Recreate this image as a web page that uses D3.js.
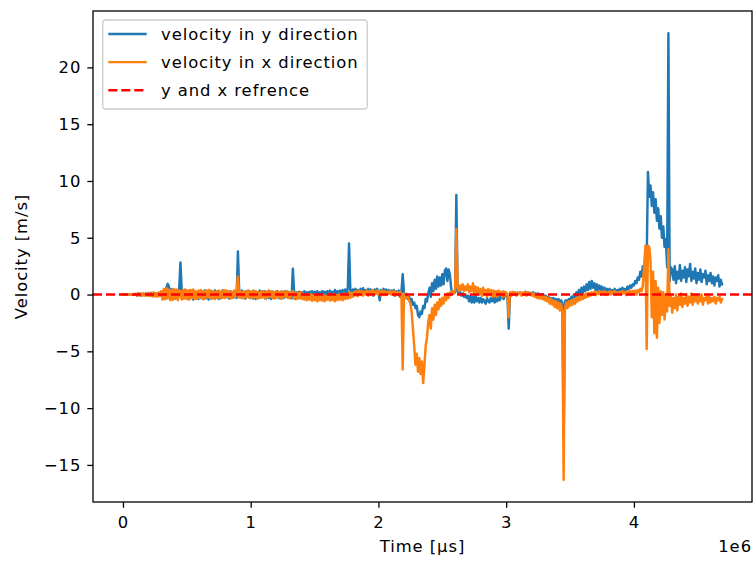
<!DOCTYPE html>
<html>
<head>
<meta charset="utf-8">
<script src="https://cdn.jsdelivr.net/npm/d3@7"></script>
<style>
  body { margin: 0; background: #fff; }
  text { font-family: "DejaVu Sans", sans-serif; fill: #000; letter-spacing: 0.93px; }
</style>
</head>
<body>
<svg id="chart" width="754" height="561"></svg>
<script>
// Sampling: one reading every 10 000 µs
const sampleStep = 10000;

// Velocity in y direction [m/s], 10 samples per row (each row = 0.1e6 µs)
const velocityY = [
  0,0,0,0,0,0,0,0,0,0,
  0.05,-0.08,0.1,-0.05,0.08,-0.1,0.06,-0.04,0.1,-0.08,
  0.12,-0.1,0.15,-0.12,0.1,-0.15,0.12,-0.08,0.18,-0.12,
  0.25,-0.35,0.3,-0.4,0.6,0.94,0.7,-0.3,0.5,-0.45,
  0.4,-0.35,0.3,-0.4,0.35,2.83,0.3,-0.35,0.4,-0.3,
  0.3,-0.4,0.35,-0.3,0.25,-0.45,0.3,-0.35,0.2,-0.4,
  0.3,-0.3,0.25,-0.4,0.35,-0.3,0.2,-0.45,0.3,-0.35,
  0.25,-0.3,0.35,-0.25,0.3,-0.4,0.2,-0.3,0.35,-0.25,
  0.3,-0.2,0.25,-0.35,0.3,-0.3,0.2,-0.25,0.3,-0.3,
  3.8,0.3,-0.25,0.35,-0.3,0.25,-0.35,0.3,-0.2,0.3,
  -0.3,0.25,-0.35,0.3,-0.4,0.2,-0.3,0.35,-0.25,0.3,
  -0.2,0.3,-0.35,0.25,-0.3,0.3,-0.4,0.25,-0.3,0.2,
  -0.25,0.3,-0.3,0.2,-0.35,0.25,-0.3,0.3,-0.2,0.25,
  -0.3,0.2,-0.35,2.28,0.25,-0.4,0.2,-0.3,0.25,-0.2,
  0.2,-0.25,0.3,-0.15,0.2,-0.3,0.25,-0.1,0.3,-0.2,
  0.25,-0.1,0.3,-0.15,0.2,-0.1,0.3,-0.2,0.25,-0.05,
  0.3,-0.1,0.35,0,0.25,-0.1,0.4,0.05,0.3,0,
  0.35,0.05,0.4,0,0.45,0.1,0.5,4.5,0.4,0.1,
  0.45,0.1,0.5,0.15,0.4,0.2,0.5,0.1,0.55,0.2,
  0.4,0.15,0.5,0.1,0.45,0.2,-0.1,0.45,0.1,0.5,
  0.2,-0.5,0.4,0.1,0.5,0.15,0.45,0.2,0.4,0.1,
  0.35,0.1,0.4,-0.1,0.3,0.05,0.35,-0.2,0.2,1.8,
  0.1,-0.3,0.05,-0.4,-0.2,-0.6,-0.4,-0.9,-0.7,-1.2,
  -1.0,-1.8,-2.0,-1.5,-1.7,-1.0,-1.2,-0.4,-0.6,0.1,
  0.6,-0.2,1.0,0.3,1.3,0.5,1.6,0.7,1.5,0.8,
  1.8,0.9,2.1,2.3,1.2,2.2,1.7,0.5,0.1,0.1,
  0.2,8.77,0.3,0.1,0.2,-0.1,0.1,-0.2,0,-0.3,
  -0.1,-0.6,-0.1,-0.7,-0.2,-0.7,-0.1,-0.6,-0.3,-0.7,
  -0.3,-0.7,-0.4,-0.6,-0.8,-0.3,-0.6,-0.7,-0.3,-0.6,
  -0.3,-0.7,-0.2,-0.6,-0.1,-0.5,-0.2,-0.1,-0.4,-0.1,
  -0.1,-0.2,-3.0,0.1,-0.1,0.15,0,0.2,0.05,0.15,
  0.1,0.2,0,0.15,0.1,0.25,0.05,0.2,0.1,0.15,
  0.05,0.2,0,0.1,-0.05,0.1,-0.1,0.05,-0.15,0,
  -0.2,-0.1,-0.3,-0.2,-0.4,-0.3,-0.5,-0.3,-0.6,-0.4,
  -0.6,-0.4,-0.7,-0.5,-0.8,-12.5,-0.6,-0.5,-0.7,-0.4,
  -0.5,-0.2,-0.4,0,-0.3,0.2,-0.1,0.4,0.1,0.6,
  0.1,0.7,0.3,0.9,0.4,1.1,0.5,1.2,0.6,1.0,
  0.4,0.9,0.3,0.8,0.2,0.7,0.3,0.6,0.1,0.5,
  0.3,0.5,0.2,0.4,0.1,0.5,0.2,0.4,0.3,0.5,
  0.3,0.6,0.4,0.5,0.3,0.7,0.5,0.8,0.6,0.9,
  0.8,1.2,1.0,1.5,1.3,2.0,1.6,2.5,2.2,2.8,
  3.0,10.8,8.6,9.6,7.8,9.0,7.2,8.4,6.5,7.6,
  5.8,6.9,5.0,6.0,4.2,4.9,2.4,23.0,1.2,2.4,
  2.2,1.3,2.5,1.0,2.0,1.4,2.6,1.2,2.1,1.5,
  2.4,1.1,2.2,1.6,2.7,1.2,2.0,1.4,2.3,1.0,
  1.9,1.3,2.2,1.1,1.8,1.5,2.1,0.9,1.7,1.2,
  1.9,1.0,1.6,0.8,1.5,1.2,1.7,0.7,1.3,0.9
];

// Velocity in x direction [m/s], same sampling
const velocityX = [
  0,0,0,0,0,0,0,0,0,0,
  0.08,-0.1,0.06,-0.12,0.1,-0.08,0.12,-0.1,0.05,-0.1,
  0.15,-0.12,0.1,-0.18,0.2,-0.15,0.12,-0.2,0.15,-0.1,
  0.3,-0.45,0.5,-0.4,0.55,-0.35,0.45,-0.5,0.4,-0.45,
  0.5,-0.4,0.45,-0.5,0.35,0.3,-0.45,0.4,-0.35,0.45,
  -0.4,0.35,-0.45,0.4,-0.3,0.45,-0.35,0.3,-0.4,0.35,
  -0.3,0.4,-0.35,0.3,-0.4,0.35,-0.25,0.4,-0.3,0.35,
  -0.35,0.3,-0.4,0.25,-0.3,0.35,-0.35,0.3,-0.25,0.4,
  -0.3,0.35,-0.25,0.3,-0.35,0.25,-0.3,0.35,-0.2,0.3,
  1.6,-0.25,0.3,-0.3,0.25,-0.35,0.3,-0.2,0.35,-0.3,
  0.25,-0.3,0.35,-0.25,0.3,-0.35,0.2,-0.3,0.3,-0.25,
  0.3,-0.35,0.25,-0.3,0.35,-0.2,0.3,-0.3,0.25,-0.35,
  0.3,-0.25,0.2,-0.35,0.3,-0.3,0.25,-0.2,0.3,-0.3,
  0.2,-0.3,0.25,0.3,-0.35,0.2,-0.4,0.15,-0.35,0.2,
  -0.4,0.1,-0.45,0.05,-0.5,0,-0.45,0.05,-0.55,-0.05,
  -0.5,0,-0.6,-0.1,-0.5,0,-0.55,-0.05,-0.6,-0.1,
  -0.45,0.05,-0.55,-0.1,-0.5,0.05,-0.6,-0.05,-0.5,0,
  -0.45,0.05,-0.5,0.1,-0.4,0,-0.35,0.2,-0.3,0.15,
  -0.2,0.25,-0.1,0.3,-0.15,0.35,0,0.3,-0.1,0.25,
  0,0.35,-0.1,0.3,0.05,0.4,-0.05,0.3,0.1,0.35,
  0,0.3,-0.1,0.35,0.05,0.3,-0.05,0.25,0.1,0.3,
  0,0.25,-0.05,0.3,0,0.2,-0.1,0.25,0,-6.6,
  0.1,-0.2,-0.3,-0.2,-0.5,-0.8,-1.5,-3.0,-4.5,-6.2,
  -5.2,-6.8,-5.6,-7.0,-5.9,-7.8,-6.2,-4.5,-3.8,-2.4,
  -1.8,-3.0,-1.2,-2.2,-0.9,-1.8,-0.7,-1.3,-0.4,-1.0,
  -0.3,-0.8,-0.1,-0.5,0.1,-0.3,0.2,0,0.3,0.1,
  0.4,5.76,0.6,0.3,0.8,0.4,0.9,0.3,0.7,0.4,
  0.9,0.2,0.7,0.3,1.0,0.1,0.7,0.2,0.6,0.0,
  0.5,-0.1,0.6,0.1,0.4,-0.2,0.5,0,0.4,-0.2,
  0.35,-0.15,0.3,-0.2,0.35,-0.05,0.25,-0.2,0.3,-0.1,
  0.2,-0.1,-2.0,0.2,-0.1,0.25,0,0.2,-0.1,0.15,
  0.05,0.2,-0.1,0.15,0,0.25,-0.1,0.2,0,0.15,
  -0.1,0.1,-0.2,0.05,-0.3,0,-0.35,-0.05,-0.4,-0.1,
  -0.5,-0.2,-0.6,-0.3,-0.8,-0.4,-0.9,-0.5,-1.1,-0.6,
  -1.2,-0.7,-1.4,-0.8,-1.5,-16.3,-1.3,-0.7,-1.2,-0.6,
  -1.0,-0.5,-0.9,-0.4,-0.8,-0.3,-0.6,-0.2,-0.5,-0.1,
  -0.4,0,-0.3,0.1,-0.2,0.15,-0.1,0.2,0,0.25,
  -0.05,0.2,0.05,0.3,0,0.25,0.1,0.3,-0.05,0.2,
  0.05,0.3,0,0.25,0.1,0.3,-0.05,0.2,0.1,0.25,
  0,0.3,0.1,0.25,-0.05,0.3,0.1,0.35,0,0.3,
  0.1,0.35,0,0.4,0.2,0.5,0.3,0.8,2.5,4.3,
  -4.8,4.3,4.2,3.0,-2.0,2.0,-3.4,1.2,-3.8,0.6,
  -2.5,0.3,-1.8,0.2,-2.2,0,-1.5,4.0,-1.0,-0.2,
  -1.6,-0.3,-1.2,0,-1.4,-0.2,-0.9,0.1,-1.1,-0.3,
  -0.8,0,-1.0,-0.2,-0.7,0.1,-0.9,-0.1,-0.6,0,
  -0.8,-0.2,-0.6,0,-0.9,-0.3,-0.5,-0.1,-0.8,-0.2,
  -0.7,-0.3,-0.6,-0.2,-0.8,-0.3,-0.5,-0.2,-0.7,-0.4
];

const referenceValue = 0;
const time = d3.range(velocityY.length).map(i => i * sampleStep);

const xTicks = [0, 1e6, 2e6, 3e6, 4e6];
const yTicks = [-15, -10, -5, 0, 5, 10, 15, 20];
const seriesNames = ["velocity in y direction", "velocity in x direction", "y and x refrence"];
const seriesColors = ["#1f77b4", "#ff7f0e", "red"];

// Layout of the plotting area
const plotLeft = 93, plotRight = 752, plotTop = 11, plotBottom = 502;
const fs = 16.4;          // 10 pt at ~118 dpi
const lineW = 2.45;       // 1.5 pt
const thinW = 1.3;        // 0.8 pt
const dash = "9.1,3.9";
const tickLen = 5.7;

const svg = d3.select("#chart");

// Domains with a 5% margin around the data
const pad = (lo, hi) => { const r = hi - lo; return [lo - 0.05 * r, hi + 0.05 * r]; };
const xExt = d3.extent(time);
const yAll = velocityY.concat(velocityX);
const yExt = [d3.min(yAll), d3.max(yAll)];

const x = d3.scaleLinear().domain(pad(xExt[0], xExt[1])).range([plotLeft, plotRight]);
const y = d3.scaleLinear().domain(pad(yExt[0], yExt[1])).range([plotBottom, plotTop]);

const line = (vals) => d3.line()
  .x((d, i) => x(time[i]))
  .y(d => y(d))(vals);

// Series
const g = svg.append("g");
g.append("path").attr("d", line(velocityY))
  .attr("fill", "none").attr("stroke", seriesColors[0]).attr("stroke-width", lineW)
  .attr("stroke-linejoin", "round").attr("stroke-linecap", "square");
g.append("path").attr("d", line(velocityX))
  .attr("fill", "none").attr("stroke", seriesColors[1]).attr("stroke-width", lineW)
  .attr("stroke-linejoin", "round").attr("stroke-linecap", "square");
g.append("line")
  .attr("x1", plotLeft).attr("x2", plotRight)
  .attr("y1", y(referenceValue)).attr("y2", y(referenceValue))
  .attr("stroke", seriesColors[2]).attr("stroke-width", lineW)
  .attr("stroke-dasharray", dash);

// Axes
const xAxis = d3.axisBottom(x).tickValues(xTicks).tickSize(tickLen).tickPadding(9)
  .tickFormat(d => String(d / 1e6));
const yAxis = d3.axisLeft(y).tickValues(yTicks).tickSize(tickLen).tickPadding(6)
  .tickFormat(d => (d < 0 ? "\u2212" + Math.abs(d) : String(d)));

const gx = svg.append("g").attr("transform", `translate(0,${plotBottom})`).call(xAxis);
const gy = svg.append("g").attr("transform", `translate(${plotLeft},0)`).call(yAxis);
[gx, gy].forEach(a => {
  a.attr("font-size", fs).attr("font-family", "DejaVu Sans");
  a.select(".domain").remove();
  a.selectAll(".tick line").attr("stroke", "#000").attr("stroke-width", thinW);
  a.selectAll(".tick text").attr("font-size", fs).attr("fill", "#000");
});

// Frame
svg.append("rect").attr("x", plotLeft).attr("y", plotTop)
  .attr("width", plotRight - plotLeft).attr("height", plotBottom - plotTop)
  .attr("fill", "none").attr("stroke", "#000").attr("stroke-width", thinW);

// Axis labels
svg.append("text").attr("x", (plotLeft + plotRight) / 2).attr("y", 552)
  .attr("text-anchor", "middle").attr("font-size", fs).text("Time [µs]");
svg.append("text").attr("x", plotRight).attr("y", 552)
  .attr("text-anchor", "end").attr("font-size", fs).text("1e6");
svg.append("text")
  .attr("transform", `translate(27,${(plotTop + plotBottom) / 2}) rotate(-90)`)
  .attr("text-anchor", "middle").attr("font-size", fs).text("Velocity [m/s]");

// Legend
const lg = svg.append("g");
lg.append("rect").attr("x", 102.7).attr("y", 20).attr("width", 264.6).attr("height", 89)
  .attr("rx", 3.3).attr("fill", "#fff").attr("fill-opacity", 0.8)
  .attr("stroke", "#ccc").attr("stroke-width", thinW);
seriesNames.forEach((name, i) => {
  const cy = 34 + i * 28.1;
  lg.append("line").attr("x1", 108.3).attr("x2", 146.7).attr("y1", cy).attr("y2", cy)
    .attr("stroke", seriesColors[i]).attr("stroke-width", lineW)
    .attr("stroke-dasharray", i === 2 ? dash : null);
  lg.append("text").attr("x", 161).attr("y", cy + 5.8)
    .attr("font-size", fs).text(name);
});
</script>
</body>
</html>
